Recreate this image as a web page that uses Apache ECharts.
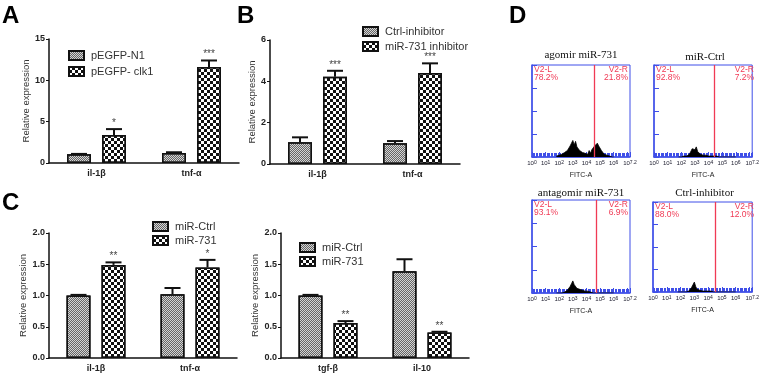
<!DOCTYPE html>
<html>
<head>
<meta charset="utf-8">
<script src="https://cdn.jsdelivr.net/npm/echarts@6/dist/echarts.min.js"></script>
<style>
html, body { margin: 0; padding: 0; background: #fff; }
#main { width: 762px; height: 373px; }
</style>
</head>
<body>
<div id="main"></div>
<script>
// ---- panel A
var catA = ['il-1β', 'tnf-α'];
var aCtrl = [1.05, 1.2];
var aCtrlErr = [1.1, 1.3];
var aClk = [3.4, 11.6];
var aClkErr = [4.1, 12.4];
var aStars = ['*', '***'];

// ---- panel B
var catB = ['il-1β', 'tnf-α'];
var bCtrl = [1.05, 1.0];
var bCtrlErr = [1.29, 1.11];
var bInh = [4.22, 4.4];
var bInhErr = [4.51, 4.87];
var bStars = ['***', '***'];

// ---- panel C (left)
var catC1 = ['il-1β', 'tnf-α'];
var c1Ctrl = [1.0, 1.02];
var c1CtrlErr = [1.01, 1.12];
var c1Mir = [1.49, 1.45];
var c1MirErr = [1.53, 1.57];
var c1Stars = ['**', '*'];

// ---- panel C (right)
var catC2 = ['tgf-β', 'il-10'];
var c2Ctrl = [1.0, 1.39];
var c2CtrlErr = [1.01, 1.58];
var c2Mir = [0.56, 0.41];
var c2MirErr = [0.59, 0.42];
var c2Stars = ['**', '**'];

// ---- panel D histograms (FITC-A, log10 units)
var bins = [1.8, 1.9, 2.0, 2.1, 2.2, 2.3, 2.4, 2.5, 2.6, 2.7, 2.8, 2.9, 3.0, 3.1, 3.2, 3.3, 3.4, 3.5, 3.6, 3.7, 3.8, 3.9, 4.0, 4.1, 4.2, 4.3, 4.4, 4.5, 4.6, 4.7, 4.8, 4.9, 5.0, 5.1, 5.2, 5.3, 5.4, 5.5, 5.6, 5.7, 5.8, 5.9, 6.0];
var dAgomir = [1, 2, 2, 1, 3, 2, 5, 4, 7, 9, 12, 15, 18, 13, 17, 11, 12, 7, 9, 5, 7, 4, 6, 3, 7, 4, 8, 9, 12, 11, 15, 12, 11, 7, 7, 3, 4, 2, 2, 1, 1, 0, 0];
var dMirCtrl = [0, 0, 0, 0, 1, 1, 1, 2, 3, 5, 9, 11, 8, 11, 6, 4, 3, 4, 2, 3, 2, 2, 1, 2, 1, 2, 1, 1, 1, 0, 0, 0, 0, 0, 0, 0, 0, 0, 0, 0, 0, 0, 0];
var dAntagomir = [0, 0, 0, 0, 0, 1, 1, 2, 3, 4, 7, 10, 13, 9, 8, 5, 3, 4, 2, 3, 3, 2, 3, 2, 2, 1, 1, 0, 0, 0, 0, 0, 0, 0, 0, 0, 0, 0, 0, 0, 0, 0, 0];
var dCtrlInh = [0, 0, 0, 0, 0, 0, 0, 1, 1, 2, 5, 8, 11, 6, 3, 2, 2, 1, 1, 1, 1, 1, 1, 1, 1, 0, 0, 0, 0, 0, 0, 0, 0, 0, 0, 0, 0, 0, 0, 0, 0, 0, 0];
var dTitles = ['agomir miR-731', 'miR-Ctrl', 'antagomir miR-731', 'Ctrl-inhibitor'];
var dGates = [4.55, 4.45, 4.7, 4.5];
var dLeftPct = ['78.2%', '92.8%', '93.1%', '88.0%'];
var dRightPct = ['21.8%', '7.2%', '6.9%', '12.0%'];

var FONT = 'Liberation Sans';
var BLUE = '#3f4fe8';
var RED = '#f03a55';
var BAR_W = 24, BAR_GAP = 11, CAP = 16;

var ctrlStyle = {
	color: '#d4d4d4', borderColor: '#111', borderWidth: 1.5,
	decal: { symbol: 'rect', symbolSize: 1, color: '#666', dashArrayX: [[1, 1], [0, 1, 1, 0]], dashArrayY: [1, 0] }
};
var treatStyle = {
	color: '#fff', borderColor: '#111', borderWidth: 1.5,
	decal: { symbol: 'rect', symbolSize: 1, color: '#111', dashArrayX: [[3, 3], [0, 3, 3, 0]], dashArrayY: [3, 0] }
};

var barPanels = [
	{ grid: { left: 49, top: 39, width: 190, height: 124 }, cats: catA, names: ['pEGFP-N1', 'pEGFP- clk1'],
	  vals: [aCtrl, aClk], errs: [aCtrlErr, aClkErr], stars: aStars, max: 15, interval: 5, dec: 0, nameGap: 15,
	  legend: { left: 63, top: 44, itemGap: 3 } },
	{ grid: { left: 270, top: 40, width: 190, height: 124 }, cats: catB, names: ['Ctrl-inhibitor', 'miR-731 inhibitor'],
	  vals: [bCtrl, bInh], errs: [bCtrlErr, bInhErr], stars: bStars, max: 6, interval: 2, dec: 0, nameGap: 9,
	  legend: { left: 357, top: 20, itemGap: 2 } },
	{ grid: { left: 49, top: 233, width: 188, height: 126 }, cats: catC1, names: ['miR-Ctrl', 'miR-731'],
	  vals: [c1Ctrl, c1Mir], errs: [c1CtrlErr, c1MirErr], stars: c1Stars, max: 2, interval: 0.5, dec: 1, nameGap: 19,
	  legend: { left: 147, top: 215, itemGap: 1 } },
	{ grid: { left: 281, top: 233, width: 188, height: 125 }, cats: catC2, names: ['miR-Ctrl', 'miR-731'],
	  vals: [c2Ctrl, c2Mir], errs: [c2CtrlErr, c2MirErr], stars: c2Stars, max: 2, interval: 0.5, dec: 1, nameGap: 21,
	  legend: { left: 294, top: 236, itemGap: 1 } }
];

var histPanels = [
	{ grid: { left: 532, top: 65, width: 98, height: 92 }, counts: dAgomir, titleY: 55 },
	{ grid: { left: 654, top: 65, width: 102, height: 92 }, counts: dMirCtrl, titleY: 57 },
	{ grid: { left: 532, top: 200, width: 98, height: 93 }, counts: dAntagomir, titleY: 193 },
	{ grid: { left: 653, top: 202, width: 103, height: 90 }, counts: dCtrlInh, titleY: 193 }
];

function errSeries(pi, side, vals, errs, stars) {
	return {
		type: 'custom', xAxisIndex: pi, yAxisIndex: pi, z: 5, silent: true,
		data: errs.map(function(e, i) { return [i, e, vals[i]]; }),
		renderItem: function(params, api) {
			var off = side * (BAR_W + BAR_GAP) / 2;
			var top = api.coord([api.value(0), api.value(1)]);
			var base = api.coord([api.value(0), api.value(2)]);
			var x = top[0] + off;
			var children = [
				{ type: 'line', shape: { x1: x, y1: base[1], x2: x, y2: top[1] }, style: { stroke: '#111', lineWidth: 2 } },
				{ type: 'line', shape: { x1: x - CAP / 2, y1: top[1], x2: x + CAP / 2, y2: top[1] }, style: { stroke: '#111', lineWidth: 2 } }
			];
			var s = stars ? stars[params.dataIndex] : '';
			if (s) {
				children.push({ type: 'text', style: { text: s, x: x, y: top[1] - 1, align: 'center', verticalAlign: 'bottom', font: '10px ' + FONT, fill: '#444' } });
			}
			return { type: 'group', children: children };
		}
	};
}

var grids = [], xAxes = [], yAxes = [], series = [], legends = [], graphics = [];

barPanels.forEach(function(p, i) {
	grids.push(p.grid);
	xAxes.push({
		type: 'category', gridIndex: i, data: p.cats,
		axisLine: { lineStyle: { color: '#111', width: 1.5 } },
		axisTick: { alignWithLabel: true, length: 3, lineStyle: { color: '#111' } },
		axisLabel: { fontFamily: FONT, fontWeight: 'bold', fontSize: 9, color: '#222', margin: 6 }
	});
	yAxes.push({
		type: 'value', gridIndex: i, min: 0, max: p.max, interval: p.interval,
		name: 'Relative expression', nameLocation: 'middle', nameGap: p.nameGap,
		nameTextStyle: { fontFamily: FONT, fontSize: 9.5, color: '#333' },
		axisLine: { show: true, lineStyle: { color: '#111', width: 1.5 } },
		axisTick: { show: true, length: 3, lineStyle: { color: '#111' } },
		splitLine: { show: false },
		axisLabel: { fontFamily: FONT, fontWeight: 'bold', fontSize: 9, color: '#222', margin: 4,
			formatter: function(v) { return v.toFixed(p.dec); } }
	});
	series.push({ type: 'bar', name: p.names[0], xAxisIndex: i, yAxisIndex: i, data: p.vals[0],
		barWidth: BAR_W, barGap: (BAR_GAP / BAR_W * 100) + '%', itemStyle: ctrlStyle, silent: true });
	series.push({ type: 'bar', name: p.names[1], xAxisIndex: i, yAxisIndex: i, data: p.vals[1],
		barWidth: BAR_W, barGap: (BAR_GAP / BAR_W * 100) + '%', itemStyle: treatStyle, silent: true });
	series.push(errSeries(i, -1, p.vals[0], p.errs[0], null));
	series.push(errSeries(i, 1, p.vals[1], p.errs[1], p.stars));
	legends.push({
		orient: 'vertical', left: p.legend.left, top: p.legend.top, itemGap: p.legend.itemGap,
		itemWidth: 15, itemHeight: 9, icon: 'rect', selectedMode: false, data: p.names,
		textStyle: { fontFamily: FONT, fontSize: 11, color: '#333', lineHeight: 13, padding: [0, 0, 0, 2] }
	});
});

// log-decade labels: the last one is the 10^7.2 end of the scale
function sup(v) {
	if (v === 7) return '';
	return '{a|10}{b|' + (Math.round(v * 10) / 10) + '}';
}

histPanels.forEach(function(h, k) {
	var gi = barPanels.length + k;
	var g = h.grid;
	grids.push({ left: g.left, top: g.top, width: g.width, height: g.height, show: true, borderColor: BLUE, borderWidth: 1, backgroundColor: '#fff' });
	xAxes.push({
		type: 'value', gridIndex: gi, min: 0, max: 7.2, interval: 1,
		name: 'FITC-A', nameLocation: 'middle', nameGap: 15,
		nameTextStyle: { fontFamily: FONT, fontSize: 7, color: '#222' },
		axisLine: { lineStyle: { color: BLUE, width: 1.5 } },
		axisTick: { inside: true, length: 5, lineStyle: { color: BLUE } },
		minorTick: { show: true, splitNumber: 10, length: 4, lineStyle: { color: BLUE } },
		splitLine: { show: false },
		axisLabel: { margin: 3, formatter: sup, showMaxLabel: true, hideOverlap: false,
			rich: { a: { fontSize: 6, color: '#223', fontFamily: FONT }, b: { fontSize: 5, color: '#223', fontFamily: FONT, verticalAlign: 'top' } } }
	});
	yAxes.push({
		type: 'value', gridIndex: gi, min: 0, max: 100, interval: 25,
		axisLine: { show: true, lineStyle: { color: BLUE, width: 1.5 } },
		axisTick: { show: true, inside: true, length: 5, lineStyle: { color: BLUE } },
		axisLabel: { show: false }, splitLine: { show: false }
	});
	series.push({
		type: 'line', xAxisIndex: gi, yAxisIndex: gi, silent: true, symbol: 'none',
		data: bins.map(function(x, i) { return [x, h.counts[i]]; }),
		lineStyle: { color: '#000', width: 0.8 },
		areaStyle: { color: '#000', opacity: 1 },
		markLine: { silent: true, symbol: 'none', label: { show: false },
			lineStyle: { color: RED, width: 1.3, type: 'solid' }, data: [{ xAxis: dGates[k] }] }
	});
	graphics.push({ type: 'text', x: g.left + g.width / 2, y: h.titleY,
		style: { text: dTitles[k], align: 'center', verticalAlign: 'middle', font: '11px Liberation Serif', fill: '#111' } });
	graphics.push({ type: 'text', x: g.left + 2, y: g.top + 1,
		style: { text: 'V2-L\n' + dLeftPct[k], align: 'left', verticalAlign: 'top', font: '8.5px ' + FONT, lineHeight: 8, fill: RED } });
	graphics.push({ type: 'text', x: g.left + g.width - 2, y: g.top + 1,
		style: { text: 'V2-R\n' + dRightPct[k], align: 'right', verticalAlign: 'top', font: '8.5px ' + FONT, lineHeight: 8, fill: RED } });
});

// panel letters
[['A', 2, 4], ['B', 237, 4], ['C', 2, 191], ['D', 509, 4]].forEach(function(l) {
	graphics.push({ type: 'text', left: l[1], top: l[2], style: { text: l[0], font: 'bold 24px ' + FONT, fill: '#000' } });
});

var chart = echarts.init(document.getElementById('main'));
chart.setOption({
	animation: false,
	backgroundColor: '#fff',
	grid: grids,
	xAxis: xAxes,
	yAxis: yAxes,
	legend: legends,
	series: series,
	graphic: graphics
});
</script>
</body>
</html>
